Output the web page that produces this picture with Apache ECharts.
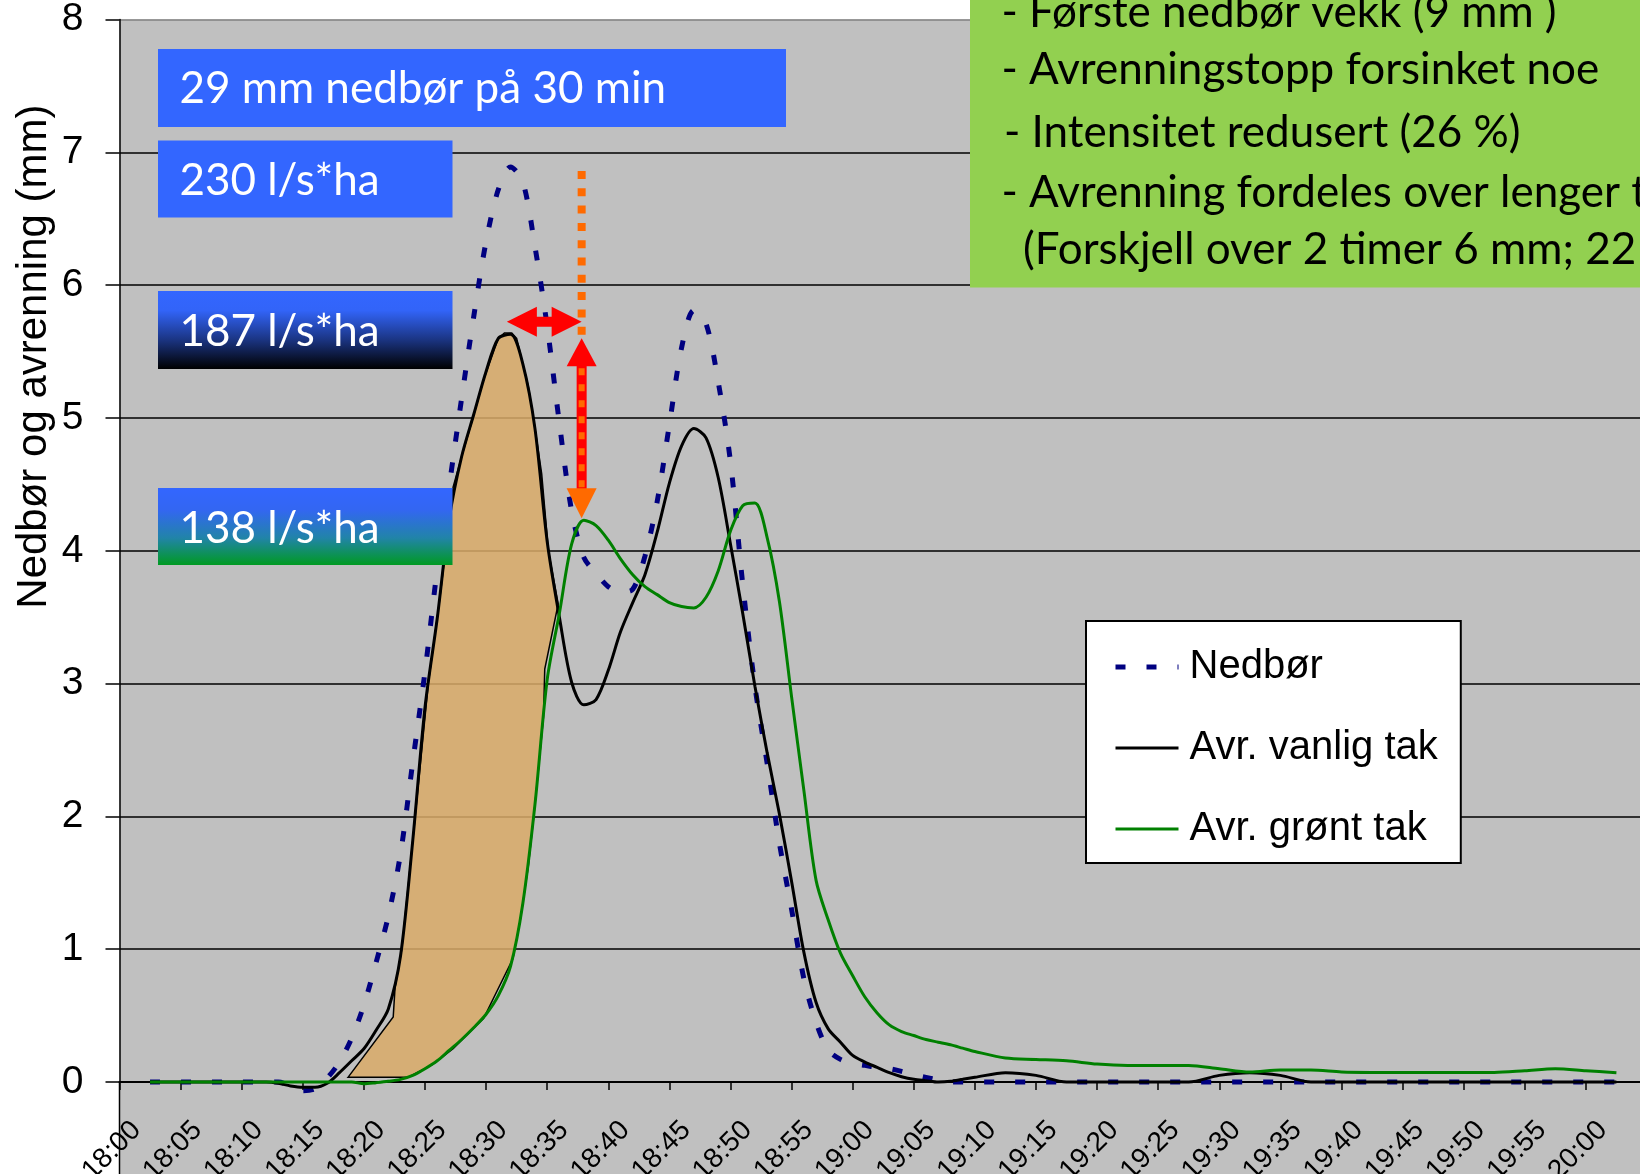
<!DOCTYPE html>
<html>
<head>
<meta charset="utf-8">
<title>Nedbør og avrenning</title>
<script src="https://cdn.jsdelivr.net/npm/echarts@6/dist/echarts.min.js"></script>
<style>
  html, body { margin: 0; padding: 0; background: #ffffff; }
  #chart { width: 1640px; height: 1174px; }
</style>
</head>
<body>
<div id="chart"></div>
<script>
// Minutes after 18:00: every minute through the event, every 2.5 minutes before and after
const minutes = [2.5, 5, 7.5, 10,
  12, 13, 14, 15, 16, 17, 18, 19, 20, 21, 22, 23, 24, 25, 26, 27, 28, 29, 30, 31, 32, 33, 34, 35, 36, 37, 38, 39, 40, 41,
  42, 43, 44, 45, 46, 47, 48, 49, 50, 51, 52, 53, 54, 55, 56, 57, 58, 59, 60, 61, 62, 63, 64, 65, 66, 67, 68, 69, 70,
  72.5, 75, 77.5, 80, 82.5, 85, 87.5, 90, 92.5, 95, 97.5, 100, 102.5, 105, 107.5, 110, 112.5, 115, 117.5, 120, 122.5];

// Precipitation (mm)
const nedbor = [0, 0, 0, 0,
  0, 0, -0.03, -0.065, -0.05, 0.03, 0.15, 0.33, 0.58, 0.90, 1.25, 1.72, 2.41, 3.09, 3.86, 4.5, 5.15, 5.77, 6.33, 6.72,
  6.89, 6.78, 6.29, 5.69, 4.96, 4.30, 3.95, 3.83, 3.73, 3.69, 3.71, 3.96, 4.37, 4.95, 5.53, 5.81, 5.71, 5.27, 4.67, 3.75,
  2.98, 2.40, 1.80, 1.30, 0.78, 0.45, 0.24, 0.17, 0.14, 0.125, 0.11, 0.10, 0.08, 0.055, 0.035, 0.015, 0, 0, 0,
  0, 0, 0, 0, 0, 0, 0, 0, 0, 0, 0, 0, 0, 0, 0, 0, 0, 0, 0, 0, 0];

// Runoff, ordinary roof (mm)
const avrVanlig = [0, 0, 0, 0,
  0, -0.01, -0.03, -0.04, -0.04, -0.01, 0.07, 0.16, 0.25, 0.39, 0.55, 0.95, 1.82, 2.82, 3.49, 4.25, 4.71, 5.03, 5.35, 5.6,
  5.63, 5.41, 4.92, 4.07, 3.50, 3.01, 2.84, 2.88, 3.1, 3.39, 3.61, 3.82, 4.14, 4.51, 4.79, 4.92, 4.85, 4.55, 4.05, 3.53,
  2.98, 2.48, 2.02, 1.51, 0.98, 0.60, 0.40, 0.30, 0.20, 0.15, 0.11, 0.07, 0.04, 0.02, 0.01, 0, 0.005, 0.02, 0.035,
  0.07, 0.05, 0, 0, 0, 0, 0, 0.05, 0.07, 0.05, 0, 0, 0, 0, 0, 0, 0, 0, 0, 0, 0];

// Runoff, green roof (mm)
const avrGront = [0, 0, 0, 0,
  0, 0, 0, 0, 0, 0, 0, 0, -0.013, -0.005, 0.005, 0.02, 0.05, 0.1, 0.16, 0.24, 0.32, 0.41, 0.51, 0.65,
  0.87, 1.34, 2.09, 3.03, 3.53, 4.05, 4.23, 4.19, 4.08, 3.94, 3.82, 3.73, 3.67, 3.61, 3.58, 3.57, 3.65, 3.85, 4.15, 4.34,
  4.36, 4.10, 3.62, 2.9, 2.2, 1.52, 1.22, 0.97, 0.8, 0.64, 0.52, 0.43, 0.38, 0.35, 0.32, 0.30, 0.28, 0.255, 0.23,
  0.18, 0.17, 0.16, 0.135, 0.125, 0.125, 0.125, 0.1, 0.075, 0.09, 0.09, 0.075, 0.072, 0.072, 0.072, 0.072, 0.072,
  0.085, 0.1, 0.085, 0.07];

// Time labels every 5 minutes
const tickLabels = ['18:00', '18:05', '18:10', '18:15', '18:20', '18:25', '18:30', '18:35', '18:40', '18:45',
  '18:50', '18:55', '19:00', '19:05', '19:10', '19:15', '19:20', '19:25', '19:30', '19:35',
  '19:40', '19:45', '19:50', '19:55', '20:00'];

// Shaded volume held back by the green roof during the first peak (minute, mm)
const retainedArea = [[18.7, 0.035], [22.4, 0.49], [22.55, 0.71], [23.1, 1.0], [24.2, 2.0], [25.27, 3.0], [26.2, 3.63],
  [27.3, 4.48], [28.0, 4.71], [28.95, 5.01], [29.8, 5.29], [31.0, 5.6], [31.5, 5.64], [32.1, 5.64], [32.5, 5.6],
  [33.45, 5.24], [33.86, 5.01], [34.55, 4.58], [35.1, 4.0], [35.9, 3.6], [34.8, 3.11], [34.7, 2.75], [34.3, 2.37],
  [33.9, 2.0], [33.45, 1.62], [32.8, 1.22], [32.2, 0.93], [29.8, 0.48], [27.3, 0.25], [25.6, 0.13], [23.6, 0.035]];

// Peak delay arrow: start minute, end minute, level (mm)
const delayArrow = [31.7, 37.82, 5.725];
// Dotted guide at the green-roof peak: minute, top, bottom (mm)
const peakGuide = [37.82, 6.86, 5.62];
// Peak reduction arrow: minute, top tip, bottom tip (mm)
const peakDrop = [37.82, 5.6, 4.245];

const seriesNames = ['Nedbør', 'Avr. vanlig tak', 'Avr. grønt tak'];
const labelBoxes = ['29 mm nedbør på 30 min', '230 l/s*ha', '187 l/s*ha', '138 l/s*ha'];
const noteLines = ['- Første nedbør vekk (9 mm )', '- Avrenningstopp forsinket noe', '- Intensitet redusert (26 %)',
  '- Avrenning fordeles over lenger tid', '(Forskjell over 2 timer 6 mm; 22 %)'];

const pairs = ys => minutes.map((m, i) => [m, ys[i]]);

const ARIAL = "'Liberation Sans', Arial, Helvetica, sans-serif";
const CALI = "Lato, 'Open Sans', sans-serif";
const BLUE = '#3366FF';
const RED = '#FF0000';
const ORANGE = '#FF6A00';
const PLOT_GRAY = '#C0C0C0';
const NAVY = '#000080';
const GREEN = '#008000';

const rainLine = { color: NAVY, width: 5, type: [10, 21] };
const plainRoofLine = { color: '#000000', width: 3 };
const greenRoofLine = { color: GREEN, width: 3 };

const chart = echarts.init(document.getElementById('chart'), null, { renderer: 'canvas' });

function boxText(text, x, yMid, fill) {
  return {
    type: 'text', x: x, y: yMid, z: 60,
    style: { text: text, fontSize: 44, fontFamily: CALI, fill: fill, align: 'left', verticalAlign: 'middle' }
  };
}

const graphics = [
  // plot area continues below the time axis
  { type: 'rect', z: -10, shape: { x: 119.5, y: 1082, width: 1521, height: 100 }, style: { fill: PLOT_GRAY } },
  { type: 'line', z: -5, shape: { x1: 119.5, y1: 1082, x2: 119.5, y2: 1180 }, style: { stroke: '#000', lineWidth: 1.5 } },
  // axis title
  {
    type: 'text', x: 34.5, y: 356.6, rotation: Math.PI / 2, z: 60,
    style: { text: 'Nedbør og avrenning (mm)', fontSize: 42, fontFamily: ARIAL, fill: '#000',
      align: 'center', verticalAlign: 'middle' }
  },
  // rainfall / intensity boxes
  { type: 'rect', z: 50, shape: { x: 158, y: 49, width: 628, height: 78 }, style: { fill: BLUE } },
  { type: 'rect', z: 50, shape: { x: 158, y: 140.5, width: 294.5, height: 77 }, style: { fill: BLUE } },
  {
    type: 'rect', z: 50, shape: { x: 158, y: 291, width: 294.5, height: 78 },
    style: { fill: new echarts.graphic.LinearGradient(0, 0, 0, 1, [
      { offset: 0, color: BLUE }, { offset: 0.25, color: '#3264F8' }, { offset: 0.62, color: '#1B3584' },
      { offset: 1, color: '#000000' }]) }
  },
  {
    type: 'rect', z: 50, shape: { x: 158, y: 488, width: 294.5, height: 77 },
    style: { fill: new echarts.graphic.LinearGradient(0, 0, 0, 1, [
      { offset: 0, color: BLUE }, { offset: 0.28, color: '#3366F2' }, { offset: 0.65, color: '#2184A8' },
      { offset: 1, color: '#009A22' }]) }
  },
  boxText(labelBoxes[0], 179.4, 89.2, '#fff'),
  boxText(labelBoxes[1], 179.4, 181.1, '#fff'),
  boxText(labelBoxes[2], 179.4, 331.5, '#fff'),
  boxText(labelBoxes[3], 179.4, 528.6, '#fff'),
  // summary box
  { type: 'rect', z: 50, shape: { x: 970, y: -10, width: 700, height: 297.5 }, style: { fill: '#92D050' } },
  boxText(noteLines[0], 1001.5, 13, '#000'),
  boxText(noteLines[1], 1001.5, 70, '#000'),
  boxText(noteLines[2], 1004, 133, '#000'),
  boxText(noteLines[3], 1001.5, 193, '#000'),
  boxText(noteLines[4], 1023, 250, '#000')
];

const option = {
  animation: false,
  backgroundColor: '#ffffff',
  grid: {
    left: 119.5, right: 0, top: 19.6, bottom: 92,
    show: true, backgroundColor: PLOT_GRAY, borderWidth: 0,
    containLabel: false, outerBoundsMode: 'none'
  },
  xAxis: {
    type: 'value', min: 0, max: 124.43, interval: 5,
    axisLine: { onZero: false, lineStyle: { color: '#000', width: 2 } },
    axisTick: { show: true, inside: false, length: 8, lineStyle: { color: '#000', width: 1.5 } },
    axisLabel: {
      rotate: 45, margin: 34, fontSize: 28, fontFamily: ARIAL, color: '#000',
      align: 'right', verticalAlign: 'top', padding: [5, -5, 0, 0],
      showMaxLabel: false, hideOverlap: false,
      formatter: v => {
        const i = Math.round(v / 5);
        return (Math.abs(v - i * 5) < 1e-6 && i < tickLabels.length) ? tickLabels[i] : '';
      }
    },
    splitLine: { show: false }
  },
  yAxis: {
    type: 'value', min: 0, max: 8, interval: 1,
    axisLine: { show: true, onZero: false, lineStyle: { color: '#000', width: 1.5 } },
    axisTick: { show: true, length: 14, lineStyle: { color: '#000', width: 1.5 } },
    axisLabel: { margin: 36, fontSize: 39, fontFamily: ARIAL, color: '#000' },
    splitLine: { show: true, lineStyle: { width: 1.5,
      color: ['#000', '#000', '#000', '#000', '#000', '#000', '#000', '#000', '#808080'] } }
  },
  legend: {
    show: true, orient: 'vertical', left: 1086, top: 621,
    padding: [26, 23, 14, 27], itemGap: 41, itemWidth: 63, itemHeight: 14,
    backgroundColor: '#fff', borderColor: '#000', borderWidth: 2, borderRadius: 0,
    itemStyle: { opacity: 0 },
    textStyle: { fontSize: 40, fontFamily: ARIAL, color: '#000', lineHeight: 40, padding: [0, 0, 0, 6] },
    data: [
      { name: seriesNames[0], lineStyle: rainLine },
      { name: seriesNames[1], lineStyle: plainRoofLine },
      { name: seriesNames[2], lineStyle: greenRoofLine }
    ]
  },
  graphic: graphics,
  series: [
    {
      name: 'retained', type: 'custom', coordinateSystem: 'cartesian2d', z: 1, silent: true,
      data: [retainedArea[0]],
      renderItem: (params, api) => ({
        type: 'polygon',
        shape: { points: retainedArea.map(p => api.coord(p)) },
        style: { fill: 'rgba(218,171,105,0.86)', stroke: '#000', lineWidth: 1.5 }
      })
    },
    {
      name: seriesNames[0], type: 'line', data: pairs(nedbor), smooth: 0.3, clip: false,
      symbol: 'none', showSymbol: false, z: 2,
      lineStyle: rainLine, itemStyle: { color: NAVY }
    },
    {
      name: seriesNames[1], type: 'line', data: pairs(avrVanlig), smooth: 0.3, clip: false,
      symbol: 'none', showSymbol: false, z: 3,
      lineStyle: plainRoofLine, itemStyle: { color: '#000000' }
    },
    {
      name: seriesNames[2], type: 'line', data: pairs(avrGront), smooth: 0.3, clip: false,
      symbol: 'none', showSymbol: false, z: 4,
      lineStyle: greenRoofLine, itemStyle: { color: GREEN }
    },
    {
      name: 'arrows', type: 'custom', coordinateSystem: 'cartesian2d', z: 10, silent: true,
      data: [[delayArrow[0], delayArrow[2]]],
      renderItem: (params, api) => {
        const a = api.coord([delayArrow[0], delayArrow[2]]);
        const b = api.coord([delayArrow[1], delayArrow[2]]);
        const y = a[1], HL = 30, HH = 15, SH = 5;
        const hArrow = [[a[0], y], [a[0] + HL, y - HH], [a[0] + HL, y - SH], [b[0] - HL, y - SH],
          [b[0] - HL, y - HH], [b[0], y], [b[0] - HL, y + HH], [b[0] - HL, y + SH],
          [a[0] + HL, y + SH], [a[0] + HL, y + HH]];
        const g1 = api.coord([peakGuide[0], peakGuide[1]]);
        const g2 = api.coord([peakGuide[0], peakGuide[2]]);
        const t = api.coord([peakDrop[0], peakDrop[1]]);
        const u = api.coord([peakDrop[0], peakDrop[2]]);
        const x = t[0];
        return {
          type: 'group',
          children: [
            { type: 'polygon', shape: { points: hArrow }, style: { fill: RED } },
            { type: 'line', shape: { x1: g1[0], y1: g1[1], x2: g2[0], y2: g2[1] },
              style: { stroke: ORANGE, lineWidth: 8, lineDash: [8, 9.3], lineCap: 'butt' } },
            { type: 'rect', shape: { x: x - 5, y: t[1] + 27, width: 10, height: (u[1] - 29) - (t[1] + 27) },
              style: { fill: RED } },
            { type: 'line', shape: { x1: x, y1: t[1] + 30, x2: x, y2: u[1] - 30 },
              style: { stroke: ORANGE, lineWidth: 6, lineDash: [7, 9], lineCap: 'butt' } },
            { type: 'polygon', shape: { points: [[x, t[1]], [x - 15, t[1] + 28], [x + 15, t[1] + 28]] },
              style: { fill: RED } },
            { type: 'polygon', shape: { points: [[x, u[1]], [x - 15, u[1] - 30], [x + 15, u[1] - 30]] },
              style: { fill: ORANGE } }
          ]
        };
      }
    }
  ]
};

chart.setOption(option);
</script>
</body>
</html>
